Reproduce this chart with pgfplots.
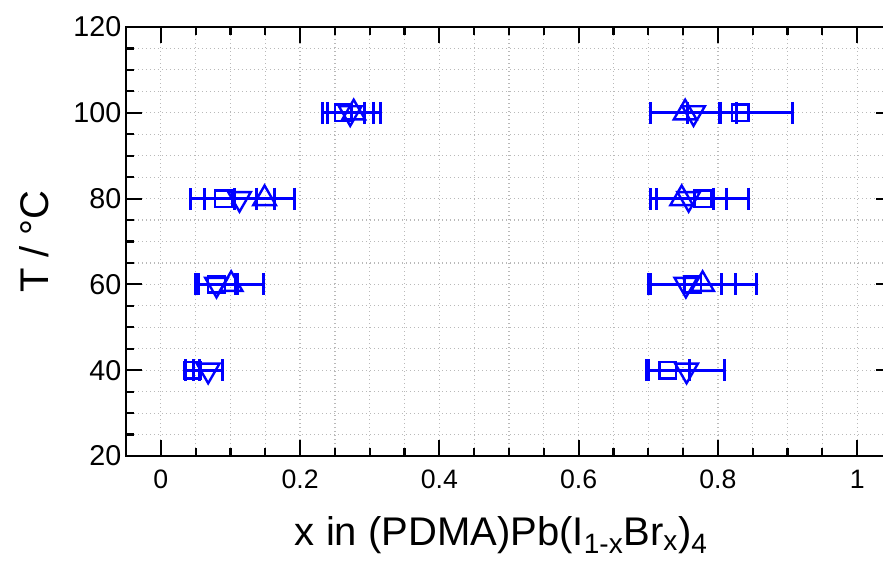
\documentclass[border=0pt]{standalone}
\usepackage{fontspec}
\setmainfont{Liberation Sans}
\usepackage{pgfplots}
\pgfplotsset{compat=1.18}

% Phase compositions (x) at each temperature, with horizontal uncertainty
\pgfplotstableread{
x      y    ex
0.045  40   0.010
0.080  60   0.027
0.090  80   0.048
0.262  100  0.030
0.728  40   0.031
0.764  60   0.061
0.778  80   0.066
0.832  100  0.075
}\squaredata
\pgfplotstableread{
x      y    ex
0.101  60   0.047
0.149  80   0.043
0.277  100  0.038
0.778  60   0.077
0.748  80   0.045
0.753  100  0.050
}\updata
\pgfplotstableread{
x      y    ex
0.068  40   0.021
0.080  60   0.030
0.113  80   0.050
0.272  100  0.033
0.755  40   0.055
0.754  60   0.051
0.758  80   0.055
0.765  100  0.062
}\downdata

\pgfplotsset{
  phase/.style={
    blue, only marks,
    error bars/x dir=both,
    error bars/x explicit,
    error bars/error bar style={line width=2.1pt, blue, solid},
    error bars/error mark options={rotate=90, mark size=8.25pt, line width=2.3pt, blue},
  },
}

\begin{document}
\begin{tikzpicture}
\path[use as bounding box] (-94.5pt,-78.75pt) rectangle (567.75pt,342pt);
\begin{axis}[
  at={(0pt,0pt)}, anchor=south west,
  scale only axis, width=574.5pt, height=321.75pt,
  xmin=-0.05, xmax=1.05, ymin=20, ymax=120,
  xtick={0,0.2,0.4,0.6,0.8,1},
  ytick={20,40,60,80,100,120},
  minor x tick num=3, minor y tick num=3,
  tick pos=both, tick align=inside,
  major tick length=12pt, minor tick length=6pt,
  every tick/.style={black, line width=1.6pt},
  axis line style={line width=1.5pt},
  grid=both,
  major grid style={gray!55, line width=0.9pt, dash pattern=on 0.9pt off 2.1pt},
  minor grid style={gray!55, line width=0.9pt, dash pattern=on 0.9pt off 2.1pt},
  /pgf/number format/assume math mode=true,
  xticklabel style={font=\fontsize{20}{24}\selectfont, yshift=-7pt},
  yticklabel style={font=\fontsize{21.5}{25}\selectfont},
  label style={font=\fontsize{30}{36}\selectfont},
  xlabel={x in (PDMA)Pb(I\textsubscript{1-x}Br\textsubscript{x})\textsubscript{4}},
  xlabel style={at={(axis description cs:0.49,0)}, anchor=base, yshift=-67pt},
  ylabel={T / °C},
  ylabel style={at={(axis description cs:-0.1018,0.5)}, anchor=base},
  clip=false,
]
\addplot[phase, mark=square,
  mark options={solid, line width=1.8pt, fill=white, mark size=6.2pt}]
  table[x=x, y=y, x error=ex] {\squaredata};
\addplot[phase, mark=triangle,
  mark options={solid, line width=1.8pt, fill=white, mark size=9.8pt}]
  table[x=x, y=y, x error=ex] {\updata};
\addplot[phase, mark=triangle,
  mark options={solid, line width=1.8pt, fill=white, mark size=9.8pt, rotate=180}]
  table[x=x, y=y, x error=ex] {\downdata};
\end{axis}
\end{tikzpicture}
\end{document}
